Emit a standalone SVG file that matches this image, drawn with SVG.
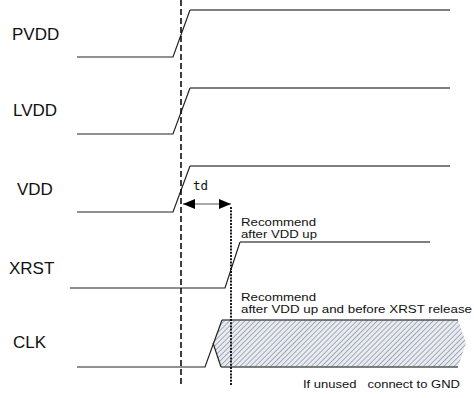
<svg xmlns="http://www.w3.org/2000/svg" width="474" height="398" viewBox="0 0 474 398">
<style>
.lbl{font-family:"Liberation Sans",Arial,sans-serif;font-size:17px;fill:#111}
.note{font-family:"Liberation Sans",Arial,sans-serif;font-size:11.5px;fill:#111}
.mono{font-family:"DejaVu Sans Mono","Liberation Mono",monospace;font-size:12.5px;fill:#111}
.sig{fill:none;stroke:#222;stroke-width:1.2}
.hi{fill:none;stroke:#555;stroke-width:1.4}
</style>
<defs>
<pattern id="hatch" patternUnits="userSpaceOnUse" width="3.6" height="3.6" patternTransform="rotate(45)">
<rect width="3.6" height="3.6" fill="#e6ebf4"/>
<line x1="0" y1="0" x2="0" y2="3.6" stroke="#333" stroke-width="0.7"/>
</pattern>
<marker id="ah" viewBox="0 0 12 10" refX="12" refY="5" markerWidth="12" markerHeight="10" markerUnits="userSpaceOnUse" orient="auto-start-reverse">
<path d="M0,0 L12,5 L0,10 Z" fill="#000"/>
</marker>
</defs>
<g id="labels">
<text class="lbl" x="12" y="40">PVDD</text>
<text class="lbl" x="13" y="116">LVDD</text>
<text class="lbl" x="17" y="195">VDD</text>
<text class="lbl" x="9" y="274">XRST</text>
<text class="lbl" x="13" y="348">CLK</text>
</g>
<g id="pvdd">
<polyline class="sig" points="77,57 173,57 190,10"/>
<line class="hi" x1="190" y1="10" x2="450" y2="10"/>
</g>
<g id="lvdd">
<polyline class="sig" points="77,134 173,134 190,88"/>
<line class="hi" x1="190" y1="88" x2="450" y2="88"/>
</g>
<g id="vdd">
<polyline class="sig" points="77,212 173,212 190,166"/>
<line class="hi" x1="190" y1="166" x2="450" y2="166"/>
</g>
<g id="xrst">
<polyline class="sig" points="70,288 225,288 240,242"/>
<line class="hi" x1="240" y1="242" x2="430" y2="242"/>
<text class="note" x="241" y="226" textLength="75" lengthAdjust="spacingAndGlyphs">Recommend</text>
<text class="note" x="241" y="238" textLength="76" lengthAdjust="spacingAndGlyphs">after VDD up</text>
</g>
<g id="clk">
<polygon points="222,320 458,320 466,343 458,367 221,367 213,343" fill="url(#hatch)"/>
<line class="hi" x1="222" y1="320" x2="458" y2="320"/>
<line class="hi" x1="221" y1="367" x2="458" y2="367"/>
<polyline class="sig" points="77,367 205,367 222,320"/>
<polyline class="sig" points="213,343 221,367"/>
<text class="note" x="241" y="301" textLength="75" lengthAdjust="spacingAndGlyphs">Recommend</text>
<text class="note" x="241" y="313" textLength="231" lengthAdjust="spacingAndGlyphs">after VDD up and before XRST release</text>
<text class="note" x="303" y="388" textLength="157" lengthAdjust="spacingAndGlyphs" xml:space="preserve">If unused   connect to GND</text>
</g>
<g id="connectors">
<line x1="181" y1="0" x2="181" y2="386" stroke="#000" stroke-width="1.5" stroke-dasharray="6,3"/>
<line x1="231" y1="207" x2="231" y2="386" stroke="#000" stroke-width="1.8" stroke-dasharray="2,1.2"/>
<line x1="183" y1="204" x2="231" y2="204" stroke="#555" stroke-width="1.2" marker-start="url(#ah)" marker-end="url(#ah)"/>
<text class="mono" x="193" y="190">td</text>
</g>
</svg>
